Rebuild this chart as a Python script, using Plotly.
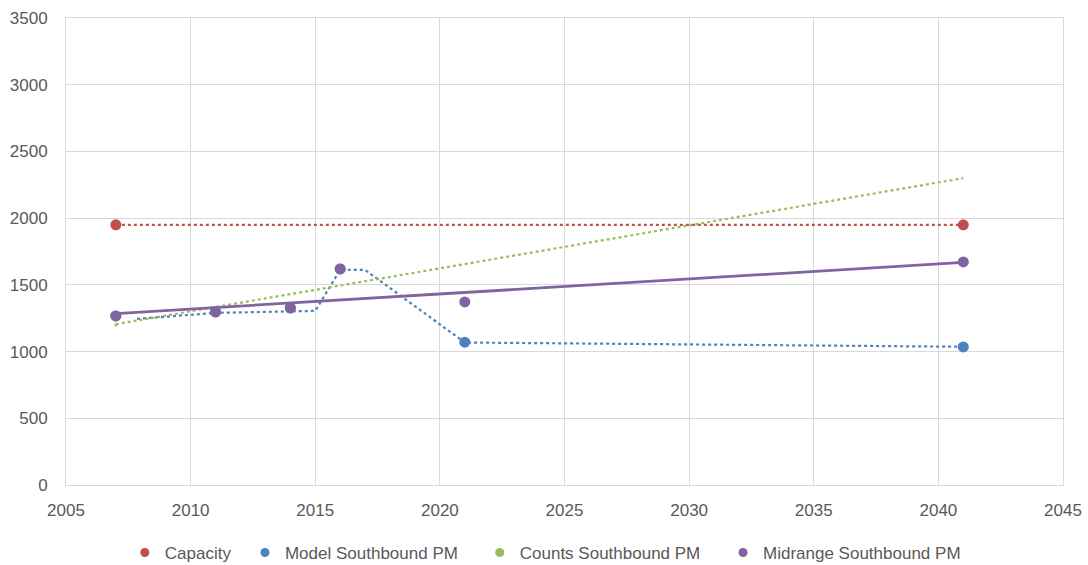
import plotly.graph_objects as go

# Observed values by year
capacity_years = [2007, 2041]
capacity_values = [1950, 1950]

model_years = [2007, 2011, 2014, 2016, 2021, 2041]
model_values = [1267, 1297, 1327, 1619, 1070, 1035]

counts_years = [2007]
counts_values = [1200]

midrange_years = [2007, 2011, 2014, 2016, 2021, 2041]
midrange_values = [1267, 1297, 1327, 1619, 1372, 1672]

# Trendlines
capacity_trend_x = [2007, 2041]
capacity_trend_y = [1950, 1950]

model_avg_x = [2007.85, 2011, 2015, 2016, 2017, 2021, 2041]
model_avg_y = [1245, 1290, 1305, 1612, 1612, 1068, 1036]

counts_trend_x = [2007, 2041]
counts_trend_y = [1205, 2300]

midrange_trend_x = [2007, 2041]
midrange_trend_y = [1285, 1668]

RED = "#c0504d"
BLUE = "#4f81bd"
GREEN = "#9bbb59"
PURPLE = "#8064a2"
FONT = "Liberation Sans, Arial, sans-serif"

fig = go.Figure()

# trendlines underneath the markers
fig.add_trace(go.Scatter(x=capacity_trend_x, y=capacity_trend_y, mode="lines",
                         line=dict(color=RED, width=2.2, dash="3px,3px"),
                         showlegend=False, hoverinfo="skip"))
fig.add_trace(go.Scatter(x=model_avg_x, y=model_avg_y, mode="lines",
                         line=dict(color=BLUE, width=2.2, dash="3px,3px"),
                         showlegend=False, hoverinfo="skip"))
fig.add_trace(go.Scatter(x=counts_trend_x, y=counts_trend_y, mode="lines",
                         line=dict(color=GREEN, width=2.2, dash="3px,3px"),
                         showlegend=False, hoverinfo="skip"))
fig.add_trace(go.Scatter(x=midrange_trend_x, y=midrange_trend_y, mode="lines",
                         line=dict(color=PURPLE, width=2.8),
                         showlegend=False, hoverinfo="skip"))

# data markers
fig.add_trace(go.Scatter(x=capacity_years, y=capacity_values, mode="markers",
                         marker=dict(color=RED, size=11), name="Capacity",
                         showlegend=False))
fig.add_trace(go.Scatter(x=model_years, y=model_values, mode="markers",
                         marker=dict(color=BLUE, size=11), name="Model Southbound PM",
                         showlegend=False))
fig.add_trace(go.Scatter(x=counts_years, y=counts_values, mode="markers",
                         marker=dict(color=GREEN, size=3), name="Counts Southbound PM",
                         showlegend=False))
fig.add_trace(go.Scatter(x=midrange_years, y=midrange_values, mode="markers",
                         marker=dict(color=PURPLE, size=11), name="Midrange Southbound PM",
                         showlegend=False))

# legend entries, one small legend box per series
legend_entries = [("Capacity", RED, "legend", 0.059),
                  ("Model Southbound PM", BLUE, "legend2", 0.1795),
                  ("Counts Southbound PM", GREEN, "legend3", 0.415),
                  ("Midrange Southbound PM", PURPLE, "legend4", 0.659)]
legend_layout = {}
for name, color, lg, lx in legend_entries:
    fig.add_trace(go.Scatter(x=[None], y=[None], mode="markers",
                             marker=dict(color=color, size=9), name=name, legend=lg))
    legend_layout[lg] = dict(orientation="h", x=lx, xanchor="left", y=-0.107,
                             yanchor="top", itemwidth=30,
                             font=dict(family=FONT, size=17, color="#595959"),
                             bgcolor="rgba(0,0,0,0)")

axis_common = dict(
    showgrid=True, gridcolor="#d9d9d9", gridwidth=1,
    showline=True, linecolor="#d9d9d9", linewidth=1, mirror=True,
    zeroline=False, ticks="",
    tickfont=dict(family=FONT, size=17, color="#595959"),
)

fig.update_xaxes(range=[2005, 2045], dtick=5, tick0=2005,
                 ticklabelstandoff=10, **axis_common)
fig.update_yaxes(range=[0, 3500], dtick=500, tick0=0,
                 ticklabelstandoff=14, **axis_common)

fig.update_layout(
    width=1088, height=565,
    margin=dict(l=66, r=25, t=18, b=80, autoexpand=False),
    plot_bgcolor="white", paper_bgcolor="white",
    font=dict(family=FONT, size=17, color="#595959"),
    **legend_layout,
)

fig.write_html("out.html")
